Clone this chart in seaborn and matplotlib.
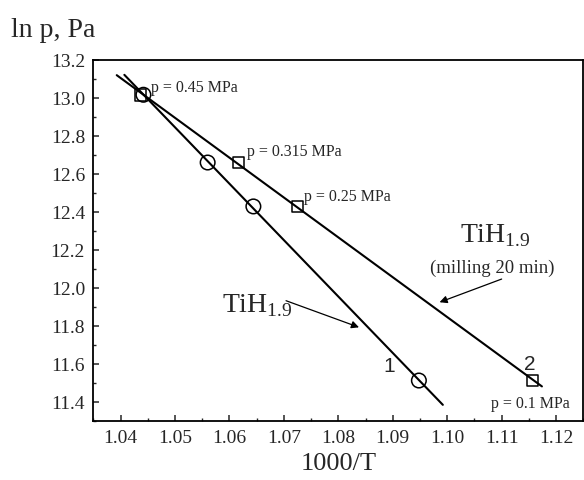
import numpy as np
import pandas as pd
import matplotlib
matplotlib.use("Agg")
import matplotlib.pyplot as plt
import matplotlib.ticker as mticker
import seaborn as sns

# Equilibrium pressures (MPa) and reciprocal temperatures (1000/T)
pressure_mpa = [0.45, 0.315, 0.25, 0.1]
inv_T_plain = [1.0442, 1.0560, 1.0644, 1.0948]    # TiH1.9, curve 1
inv_T_milled = [1.0437, 1.0617, 1.0725, 1.1157]   # TiH1.9 milled 20 min, curve 2
fit_span_plain = [1.0407, 1.0992]
fit_span_milled = [1.0393, 1.1174]
p_labels = ["p = 0.45 MPa", "p = 0.315 MPa", "p = 0.25 MPa", "p = 0.1 MPa"]

ln_p = np.log(np.array(pressure_mpa) * 1e6)

plain = pd.DataFrame({"x": inv_T_plain, "y": ln_p})
milled = pd.DataFrame({"x": inv_T_milled, "y": ln_p})

sns.set_style("ticks")
plt.rcParams["font.family"] = ["Liberation Serif", "DejaVu Serif"]
plt.rcParams["mathtext.fontset"] = "custom"
plt.rcParams["mathtext.rm"] = "Liberation Serif"

fig = plt.figure(figsize=(5.84, 4.81), dpi=100)
ax = fig.add_axes([0.1598, 0.1227, 0.8390, 0.7505])

# Linear (van 't Hoff) fits through each series
for d, span in [(plain, fit_span_plain), (milled, fit_span_milled)]:
    k, b = np.polyfit(d["x"], d["y"], 1)
    xx = np.array(span)
    sns.lineplot(x=xx, y=k * xx + b, color="black", lw=1.5, ax=ax, legend=False)

sns.scatterplot(data=plain, x="x", y="y", marker="o", s=110, facecolor="none",
                edgecolor="black", linewidth=1.1, ax=ax, zorder=3)
sns.scatterplot(data=milled, x="x", y="y", marker="s", s=70, facecolor="none",
                edgecolor="black", linewidth=1.1, ax=ax, zorder=3)

ax.set_xlim(1.035, 1.125)
ax.set_ylim(11.3, 13.2)
ax.set_xticks(np.arange(1.04, 1.1201, 0.01))
ax.set_xticks(np.arange(1.035, 1.1251, 0.005), minor=True)
ax.set_yticks(np.arange(11.4, 13.201, 0.2))
ax.set_yticks(np.arange(11.3, 13.201, 0.1), minor=True)
ax.xaxis.set_major_formatter(mticker.FormatStrFormatter("%.2f"))
ax.yaxis.set_major_formatter(mticker.FormatStrFormatter("%.1f"))
ax.tick_params(which="major", direction="in", length=4.5, width=1.1, labelsize=14,
               top=False, right=False, pad=6)
ax.tick_params(which="minor", direction="in", length=2.5, width=1.0, top=False, right=False)
for sp in ax.spines.values():
    sp.set_visible(True)
    sp.set_linewidth(1.3)
    sp.set_color("black")

ax.set_xlabel("1000/T", fontsize=19, labelpad=4)
ax.set_ylabel("")
fig.text(0.019, 0.937, "ln p, Pa", fontsize=20, ha="left", va="center")

# Pressure labels beside the points
label_pos = [(inv_T_milled[0] + 0.0019, ln_p[0] + 0.04),
             (inv_T_milled[1] + 0.0015, ln_p[1] + 0.06),
             (inv_T_milled[2] + 0.0012, ln_p[2] + 0.057),
             (inv_T_milled[3] - 0.0076, ln_p[3] - 0.118)]
for txt, (xv, yv) in zip(p_labels, label_pos):
    ax.text(xv, yv, txt, fontsize=11.5, ha="left", va="center")

# Compound labels with arrows
ax.text(1.0586, 11.91, r"TiH$_{1.9}$", fontsize=20, ha="left", va="center")
ax.annotate("", xy=(1.0838, 11.793), xytext=(1.0704, 11.933),
            arrowprops=dict(arrowstyle="-|>", color="black", lw=0.9, mutation_scale=11,
                            shrinkA=0, shrinkB=0))
ax.text(1.1023, 12.28, r"TiH$_{1.9}$", fontsize=20, ha="left", va="center")
ax.text(1.1083, 12.11, "(milling 20 min)", fontsize=13.5, ha="center", va="center")
ax.annotate("", xy=(1.0986, 11.925), xytext=(1.1100, 12.047),
            arrowprops=dict(arrowstyle="-|>", color="black", lw=0.9, mutation_scale=11,
                            shrinkA=0, shrinkB=0))

# Curve numbers
ax.text(1.0894, 11.59, "1", fontsize=15, family="Liberation Sans", ha="center", va="center")
ax.text(1.1151, 11.60, "2", fontsize=15, family="Liberation Sans", ha="center", va="center")

fig.savefig("out.png", dpi=100)
